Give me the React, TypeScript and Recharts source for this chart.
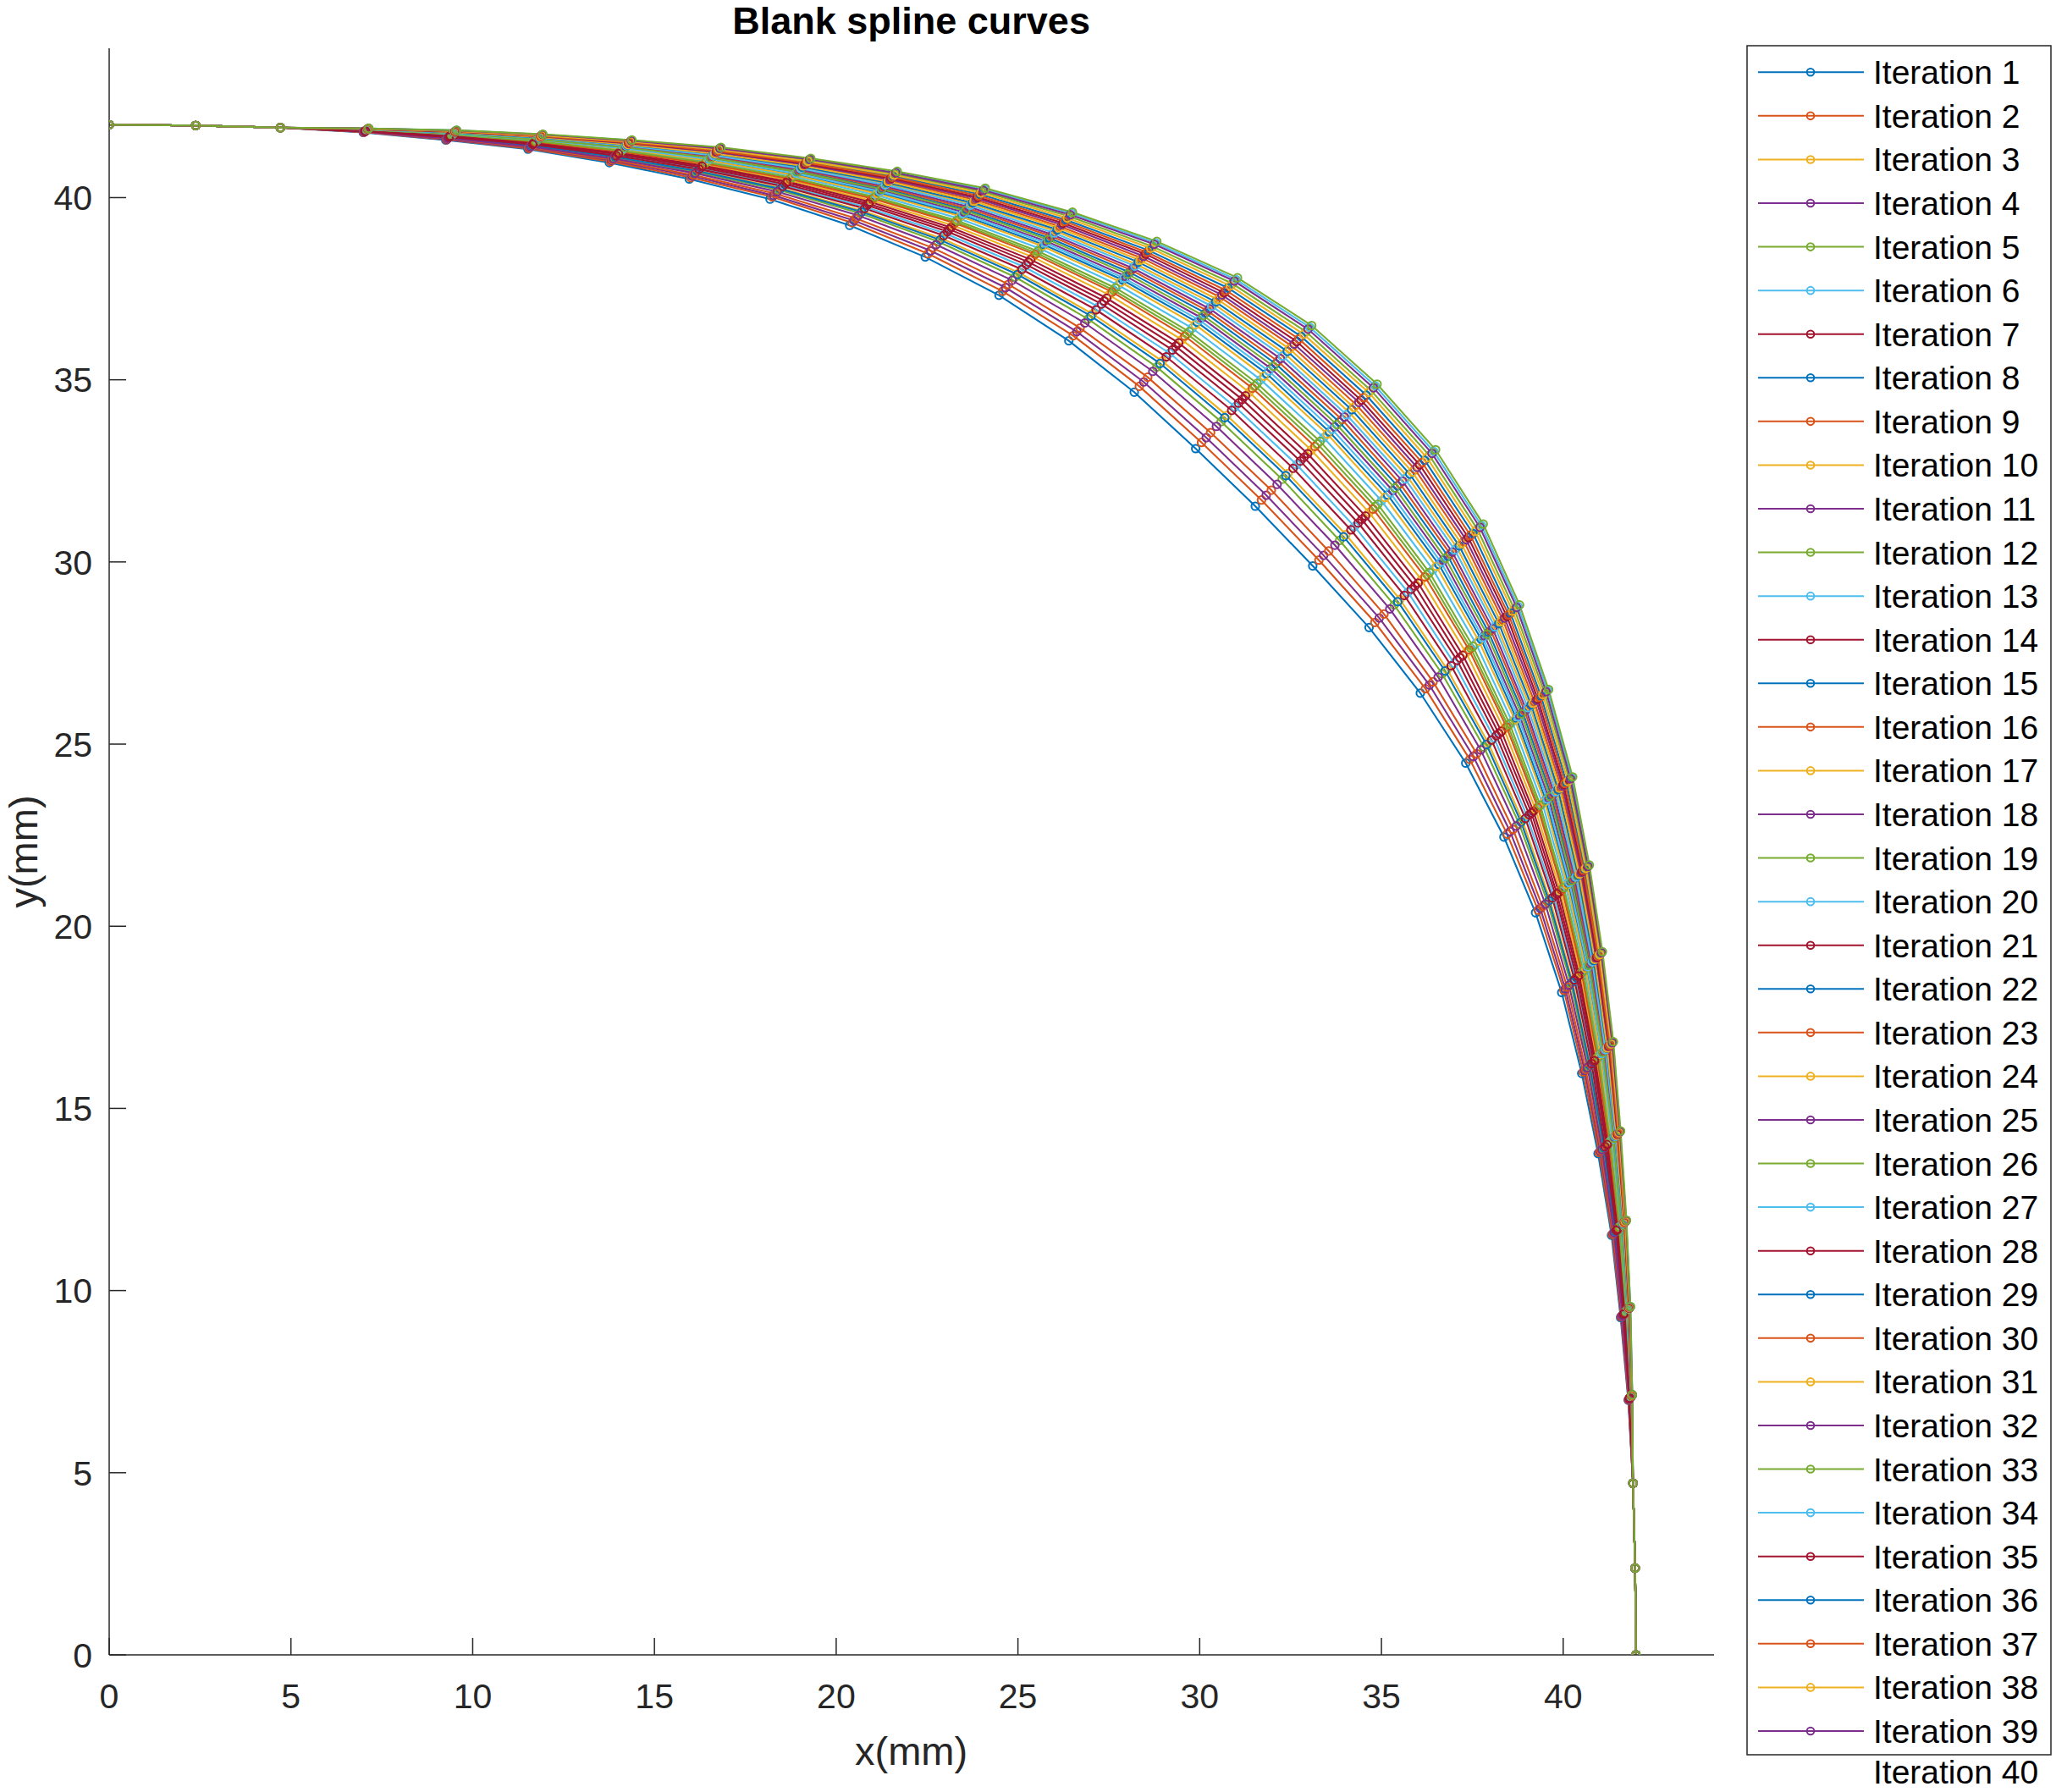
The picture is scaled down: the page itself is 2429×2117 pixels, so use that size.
import React from "react";
import { LineChart, Line, XAxis, YAxis } from "recharts";

// MATLAB default line colour order, cycles every 7 iterations
const palette = ["#0072BD", "#D95319", "#EDB120", "#7E2F8E", "#77AC30", "#4DBEEE", "#A2142F"];

const xTicks = [0, 5, 10, 15, 20, 25, 30, 35, 40];
const yTicks = [0, 5, 10, 15, 20, 25, 30, 35, 40];

// upper half of each blank profile, from (0, 42) to the point on the diagonal (mm)
const upperX: number[][] = [
  [0, 2.38, 4.71, 6.99, 9.26, 11.52, 13.76, 15.96, 18.18, 20.37, 22.45, 24.48, 26.40, 28.20, 29.89, 31.53],
  [0, 2.38, 4.71, 7.00, 9.28, 11.54, 13.79, 16.00, 18.24, 20.44, 22.53, 24.58, 26.52, 28.34, 30.05, 31.70],
  [0, 2.38, 4.71, 7.03, 9.34, 11.63, 13.93, 16.19, 18.48, 20.72, 22.90, 25.03, 27.05, 28.97, 30.75, 32.43],
  [0, 2.38, 4.71, 7.00, 9.29, 11.56, 13.82, 16.04, 18.28, 20.49, 22.60, 24.66, 26.62, 28.46, 30.18, 31.83],
  [0, 2.38, 4.71, 7.02, 9.33, 11.61, 13.90, 16.15, 18.43, 20.66, 22.81, 24.92, 26.93, 28.82, 30.59, 32.27],
  [0, 2.38, 4.71, 7.04, 9.36, 11.66, 13.97, 16.26, 18.56, 20.82, 23.01, 25.17, 27.22, 29.17, 30.97, 32.67],
  [0, 2.38, 4.71, 7.05, 9.37, 11.67, 13.99, 16.28, 18.59, 20.85, 23.06, 25.23, 27.30, 29.25, 31.07, 32.77],
  [0, 2.38, 4.71, 7.03, 9.34, 11.62, 13.92, 16.18, 18.46, 20.70, 22.86, 24.99, 27.01, 28.91, 30.69, 32.37],
  [0, 2.38, 4.71, 7.01, 9.30, 11.57, 13.84, 16.07, 18.33, 20.54, 22.66, 24.74, 26.71, 28.57, 30.30, 31.97],
  [0, 2.38, 4.71, 7.06, 9.40, 11.71, 14.05, 16.36, 18.70, 20.97, 23.21, 25.41, 27.51, 29.51, 31.36, 33.07],
  [0, 2.38, 4.71, 7.02, 9.31, 11.59, 13.87, 16.12, 18.38, 20.61, 22.75, 24.84, 26.84, 28.71, 30.46, 32.13],
  [0, 2.38, 4.71, 7.07, 9.41, 11.73, 14.08, 16.40, 18.75, 21.04, 23.29, 25.51, 27.63, 29.65, 31.52, 33.24],
  [0, 2.38, 4.71, 7.07, 9.43, 11.75, 14.11, 16.45, 18.81, 21.10, 23.37, 25.61, 27.76, 29.79, 31.68, 33.41],
  [0, 2.38, 4.71, 7.05, 9.39, 11.70, 14.03, 16.33, 18.66, 20.93, 23.16, 25.35, 27.44, 29.42, 31.26, 32.97],
  [0, 2.38, 4.71, 7.08, 9.44, 11.77, 14.14, 16.49, 18.86, 21.17, 23.46, 25.71, 27.88, 29.93, 31.84, 33.57],
  [0, 2.38, 4.71, 7.06, 9.41, 11.72, 14.06, 16.39, 18.73, 21.01, 23.26, 25.47, 27.59, 29.59, 31.45, 33.17],
  [0, 2.38, 4.71, 7.08, 9.44, 11.76, 14.13, 16.47, 18.84, 21.14, 23.42, 25.67, 27.83, 29.88, 31.77, 33.51],
  [0, 2.38, 4.71, 7.09, 9.46, 11.79, 14.16, 16.53, 18.91, 21.22, 23.52, 25.79, 27.97, 30.05, 31.96, 33.71],
  [0, 2.38, 4.71, 7.07, 9.42, 11.74, 14.09, 16.42, 18.77, 21.06, 23.32, 25.55, 27.68, 29.71, 31.58, 33.31],
  [0, 2.38, 4.71, 7.08, 9.45, 11.78, 14.15, 16.51, 18.89, 21.20, 23.49, 25.75, 27.92, 29.99, 31.90, 33.64],
  [0, 2.38, 4.71, 7.05, 9.38, 11.68, 14.01, 16.31, 18.63, 20.89, 23.11, 25.29, 27.37, 29.34, 31.17, 32.87],
  [0, 2.38, 4.71, 7.09, 9.47, 11.80, 14.19, 16.56, 18.95, 21.27, 23.59, 25.87, 28.07, 30.16, 32.09, 33.84],
  [0, 2.38, 4.71, 7.10, 9.47, 11.81, 14.20, 16.58, 18.98, 21.30, 23.62, 25.91, 28.12, 30.22, 32.15, 33.91],
  [0, 2.38, 4.71, 7.11, 9.49, 11.84, 14.24, 16.63, 19.04, 21.38, 23.72, 26.04, 28.26, 30.39, 32.35, 34.11],
  [0, 2.38, 4.71, 7.10, 9.48, 11.82, 14.21, 16.60, 19.00, 21.33, 23.65, 25.95, 28.17, 30.27, 32.22, 33.98],
  [0, 2.38, 4.71, 7.09, 9.46, 11.79, 14.18, 16.54, 18.93, 21.25, 23.56, 25.83, 28.02, 30.10, 32.03, 33.77],
  [0, 2.38, 4.71, 7.10, 9.49, 11.83, 14.23, 16.61, 19.02, 21.35, 23.69, 26.00, 28.22, 30.33, 32.28, 34.04],
  [0, 2.38, 4.71, 7.04, 9.35, 11.65, 13.95, 16.23, 18.53, 20.78, 22.96, 25.11, 27.15, 29.08, 30.88, 32.57],
  [0, 2.38, 4.71, 7.11, 9.50, 11.84, 14.25, 16.65, 19.06, 21.40, 23.75, 26.08, 28.31, 30.44, 32.41, 34.18],
  [0, 2.38, 4.71, 7.11, 9.51, 11.86, 14.27, 16.68, 19.11, 21.46, 23.82, 26.16, 28.41, 30.56, 32.54, 34.31],
  [0, 2.38, 4.71, 7.11, 9.50, 11.85, 14.26, 16.66, 19.09, 21.43, 23.79, 26.12, 28.36, 30.50, 32.47, 34.24],
  [0, 2.38, 4.71, 7.12, 9.52, 11.87, 14.29, 16.70, 19.13, 21.48, 23.85, 26.20, 28.46, 30.61, 32.60, 34.38],
  [0, 2.38, 4.71, 7.13, 9.55, 11.91, 14.35, 16.79, 19.24, 21.61, 24.02, 26.40, 28.70, 30.90, 32.92, 34.71],
  [0, 2.38, 4.71, 7.14, 9.56, 11.92, 14.37, 16.82, 19.28, 21.66, 24.08, 26.47, 28.78, 31.00, 33.03, 34.83],
  [0, 2.38, 4.71, 7.12, 9.52, 11.88, 14.30, 16.72, 19.15, 21.51, 23.89, 26.24, 28.51, 30.67, 32.67, 34.44],
  [0, 2.38, 4.71, 7.13, 9.53, 11.89, 14.32, 16.75, 19.20, 21.56, 23.95, 26.32, 28.60, 30.78, 32.79, 34.58],
  [0, 2.38, 4.71, 7.12, 9.53, 11.88, 14.31, 16.73, 19.18, 21.54, 23.92, 26.28, 28.55, 30.73, 32.73, 34.51],
  [0, 2.38, 4.71, 7.13, 9.54, 11.90, 14.34, 16.77, 19.22, 21.59, 23.98, 26.36, 28.65, 30.84, 32.86, 34.65],
  [0, 2.38, 4.71, 7.14, 9.55, 11.92, 14.36, 16.80, 19.27, 21.64, 24.05, 26.44, 28.75, 30.95, 32.98, 34.78],
  [0, 2.38, 4.71, 7.14, 9.56, 11.93, 14.38, 16.83, 19.30, 21.68, 24.10, 26.50, 28.82, 31.04, 33.08, 34.88],
];

const upperY: number[][] = [
  [42, 41.98, 41.92, 41.79, 41.58, 41.33, 40.96, 40.51, 39.96, 39.24, 38.37, 37.32, 36.07, 34.66, 33.11, 31.53],
  [42, 41.98, 41.92, 41.80, 41.59, 41.35, 40.99, 40.55, 40.02, 39.31, 38.46, 37.43, 36.21, 34.82, 33.28, 31.70],
  [42, 41.98, 41.92, 41.82, 41.65, 41.44, 41.13, 40.74, 40.26, 39.64, 38.88, 37.94, 36.81, 35.51, 34.02, 32.43],
  [42, 41.98, 41.92, 41.80, 41.60, 41.37, 41.02, 40.59, 40.06, 39.37, 38.54, 37.53, 36.32, 34.94, 33.41, 31.83],
  [42, 41.98, 41.92, 41.81, 41.64, 41.42, 41.10, 40.70, 40.21, 39.57, 38.79, 37.82, 36.67, 35.35, 33.85, 32.27],
  [42, 41.98, 41.92, 41.83, 41.67, 41.47, 41.17, 40.81, 40.34, 39.74, 39.01, 38.10, 37.00, 35.73, 34.26, 32.67],
  [42, 41.98, 41.92, 41.83, 41.68, 41.48, 41.19, 40.83, 40.37, 39.79, 39.07, 38.16, 37.08, 35.82, 34.36, 32.77],
  [42, 41.98, 41.92, 41.82, 41.65, 41.43, 41.12, 40.73, 40.24, 39.61, 38.84, 37.89, 36.75, 35.45, 33.96, 32.37],
  [42, 41.98, 41.92, 41.80, 41.62, 41.38, 41.04, 40.62, 40.11, 39.43, 38.62, 37.62, 36.42, 35.07, 33.55, 31.97],
  [42, 41.98, 41.92, 41.84, 41.70, 41.52, 41.25, 40.91, 40.48, 39.92, 39.24, 38.37, 37.33, 36.10, 34.66, 33.07],
  [42, 41.98, 41.92, 41.81, 41.63, 41.40, 41.07, 40.67, 40.16, 39.51, 38.71, 37.73, 36.56, 35.23, 33.72, 32.13],
  [42, 41.98, 41.92, 41.85, 41.72, 41.54, 41.28, 40.95, 40.53, 39.99, 39.33, 38.48, 37.46, 36.26, 34.83, 33.24],
  [42, 41.98, 41.92, 41.85, 41.73, 41.56, 41.31, 41.00, 40.59, 40.07, 39.43, 38.60, 37.60, 36.42, 35.00, 33.41],
  [42, 41.98, 41.92, 41.84, 41.70, 41.51, 41.23, 40.88, 40.44, 39.88, 39.18, 38.30, 37.24, 36.01, 34.56, 32.97],
  [42, 41.98, 41.92, 41.86, 41.74, 41.58, 41.34, 41.04, 40.64, 40.14, 39.52, 38.71, 37.74, 36.58, 35.17, 33.57],
  [42, 41.98, 41.92, 41.84, 41.71, 41.53, 41.26, 40.94, 40.51, 39.97, 39.30, 38.44, 37.41, 36.20, 34.77, 33.17],
  [42, 41.98, 41.92, 41.85, 41.74, 41.57, 41.33, 41.02, 40.62, 40.11, 39.49, 38.67, 37.68, 36.51, 35.10, 33.51],
  [42, 41.98, 41.92, 41.86, 41.76, 41.60, 41.36, 41.08, 40.69, 40.20, 39.60, 38.80, 37.84, 36.70, 35.31, 33.71],
  [42, 41.98, 41.92, 41.85, 41.72, 41.55, 41.29, 40.97, 40.55, 40.02, 39.37, 38.53, 37.52, 36.32, 34.90, 33.31],
  [42, 41.98, 41.92, 41.86, 41.75, 41.59, 41.35, 41.06, 40.67, 40.17, 39.56, 38.76, 37.79, 36.64, 35.24, 33.64],
  [42, 41.98, 41.92, 41.83, 41.69, 41.49, 41.21, 40.86, 40.41, 39.83, 39.13, 38.23, 37.16, 35.92, 34.46, 32.87],
  [42, 41.98, 41.92, 41.87, 41.77, 41.61, 41.39, 41.11, 40.73, 40.26, 39.67, 38.89, 37.95, 36.83, 35.44, 33.84],
  [42, 41.98, 41.92, 41.87, 41.77, 41.62, 41.40, 41.13, 40.76, 40.29, 39.71, 38.94, 38.01, 36.89, 35.51, 33.91],
  [42, 41.98, 41.92, 41.87, 41.79, 41.65, 41.44, 41.18, 40.82, 40.38, 39.83, 39.08, 38.17, 37.08, 35.71, 34.11],
  [42, 41.98, 41.92, 41.87, 41.78, 41.63, 41.41, 41.15, 40.78, 40.32, 39.75, 38.98, 38.06, 36.95, 35.58, 33.98],
  [42, 41.98, 41.92, 41.86, 41.76, 41.60, 41.38, 41.09, 40.71, 40.23, 39.64, 38.85, 37.90, 36.76, 35.37, 33.77],
  [42, 41.98, 41.92, 41.87, 41.78, 41.64, 41.43, 41.16, 40.80, 40.35, 39.79, 39.03, 38.12, 37.02, 35.65, 34.04],
  [42, 41.98, 41.92, 41.82, 41.66, 41.46, 41.15, 40.78, 40.31, 39.70, 38.96, 38.03, 36.92, 35.63, 34.16, 32.57],
  [42, 41.98, 41.92, 41.88, 41.79, 41.65, 41.45, 41.20, 40.84, 40.41, 39.86, 39.12, 38.23, 37.14, 35.78, 34.18],
  [42, 41.98, 41.92, 41.88, 41.80, 41.67, 41.47, 41.23, 40.89, 40.47, 39.94, 39.21, 38.34, 37.27, 35.92, 34.31],
  [42, 41.98, 41.92, 41.88, 41.80, 41.66, 41.46, 41.21, 40.87, 40.44, 39.90, 39.17, 38.28, 37.20, 35.85, 34.24],
  [42, 41.98, 41.92, 41.88, 41.81, 41.68, 41.49, 41.25, 40.91, 40.50, 39.98, 39.26, 38.39, 37.33, 35.98, 34.38],
  [42, 41.98, 41.92, 41.89, 41.84, 41.72, 41.55, 41.34, 41.02, 40.65, 40.17, 39.49, 38.66, 37.64, 36.32, 34.71],
  [42, 41.98, 41.92, 41.90, 41.85, 41.73, 41.57, 41.37, 41.06, 40.70, 40.23, 39.57, 38.76, 37.75, 36.44, 34.83],
  [42, 41.98, 41.92, 41.89, 41.81, 41.69, 41.50, 41.27, 40.93, 40.53, 40.01, 39.30, 38.45, 37.39, 36.05, 34.44],
  [42, 41.98, 41.92, 41.89, 41.83, 41.70, 41.52, 41.30, 40.98, 40.59, 40.09, 39.39, 38.55, 37.52, 36.19, 34.58],
  [42, 41.98, 41.92, 41.89, 41.82, 41.69, 41.51, 41.28, 40.96, 40.56, 40.05, 39.35, 38.50, 37.45, 36.12, 34.51],
  [42, 41.98, 41.92, 41.89, 41.83, 41.71, 41.54, 41.32, 41.00, 40.62, 40.13, 39.44, 38.61, 37.58, 36.25, 34.65],
  [42, 41.98, 41.92, 41.90, 41.84, 41.73, 41.56, 41.35, 41.05, 40.68, 40.20, 39.53, 38.72, 37.71, 36.39, 34.78],
  [42, 41.98, 41.92, 41.90, 41.85, 41.74, 41.58, 41.38, 41.08, 40.72, 40.26, 39.60, 38.80, 37.80, 36.49, 34.88],
];

const labels = upperX.map((_, i) => `Iteration ${i + 1}`);

// the blank is symmetric about y = x, so the lower half is the upper half mirrored
const series = upperX.map((xs, i) => {
  const ys = upperY[i];
  const top = xs.map((x, k) => ({ x, y: ys[k] }));
  const bottom = xs
    .slice(0, -1)
    .map((x, k) => ({ x: ys[k], y: x }))
    .reverse();
  return top.concat(bottom);
});

const FONT = '"Liberation Sans", Arial, Helvetica, sans-serif';
const AXIS = "#262626";

const XTick = (props: any) => {
  const { x, y, payload } = props;
  return (
    <g>
      <line x1={x} x2={x} y1={y} y2={y - 20} stroke={AXIS} strokeWidth={1.5} />
      <text x={x} y={y + 63} textAnchor="middle" fontSize={41} fill={AXIS} fontFamily={FONT}>
        {payload.value}
      </text>
    </g>
  );
};

const YTick = (props: any) => {
  const { x, y, payload } = props;
  return (
    <g>
      <line x1={x} x2={x + 20} y1={y} y2={y} stroke={AXIS} strokeWidth={1.5} />
      <text x={x - 20} y={y} dy="0.36em" textAnchor="end" fontSize={41} fill={AXIS} fontFamily={FONT}>
        {payload.value}
      </text>
    </g>
  );
};

const LEG_TOP = 85.3;
const LEG_STEP = 51.57;

export default function App() {
  return (
    <div style={{ position: "relative", width: 2429, height: 2117, overflow: "hidden", background: "#fff" }}>
      <style>{"body{margin:0}"}</style>
      <LineChart width={2429} height={2117} margin={{ top: 57, right: 404, bottom: 0, left: 0 }}>
        <XAxis
          type="number"
          dataKey="x"
          domain={[0, 44.15]}
          ticks={xTicks}
          interval={0}
          allowDataOverflow
          height={162}
          tickSize={0}
          tickMargin={0}
          tick={XTick}
          axisLine={{ stroke: AXIS, strokeWidth: 1.5 }}
        />
        <YAxis
          type="number"
          dataKey="y"
          domain={[0, 44.1]}
          ticks={yTicks}
          interval={0}
          allowDataOverflow
          width={129}
          tickSize={0}
          tickMargin={0}
          tick={YTick}
          axisLine={{ stroke: AXIS, strokeWidth: 1.5 }}
        />
        {series.map((pts, i) => {
          const color = palette[i % palette.length];
          return (
            <Line
              key={labels[i]}
              name={labels[i]}
              data={pts}
              dataKey="y"
              type="linear"
              stroke={color}
              strokeWidth={2.1}
              dot={{ r: 4.6, fill: "none", stroke: color, strokeWidth: 2 }}
              activeDot={false}
              isAnimationActive={false}
            />
          );
        })}
      </LineChart>

      <svg
        width={2429}
        height={2117}
        style={{ position: "absolute", left: 0, top: 0, pointerEvents: "none" }}
        fontFamily={FONT}
      >
        <text x={1076.6} y={40} textAnchor="middle" fontSize={45} fontWeight="bold" fill="#000">
          Blank spline curves
        </text>
        <text x={1076.6} y={2085} textAnchor="middle" fontSize={47} fill={AXIS}>
          x(mm)
        </text>
        <text transform="translate(44,1006) rotate(-90)" textAnchor="middle" fontSize={47} fill={AXIS}>
          y(mm)
        </text>

        <rect x={2064} y={54} width={359} height={2019} fill="#fff" stroke={AXIS} strokeWidth={1.5} />
        {labels.map((label, i) => {
          const cy = LEG_TOP + i * LEG_STEP;
          const color = palette[i % palette.length];
          const inside = cy < 2073;
          return (
            <g key={label}>
              {inside && <line x1={2077} x2={2202} y1={cy} y2={cy} stroke={color} strokeWidth={2} />}
              {inside && <circle cx={2139} cy={cy} r={4.3} fill="none" stroke={color} strokeWidth={2} />}
              <text x={2213} y={inside ? cy : cy - 4} dy="0.36em" fontSize={39} fill="#000">
                {label}
              </text>
            </g>
          );
        })}
      </svg>
    </div>
  );
}
